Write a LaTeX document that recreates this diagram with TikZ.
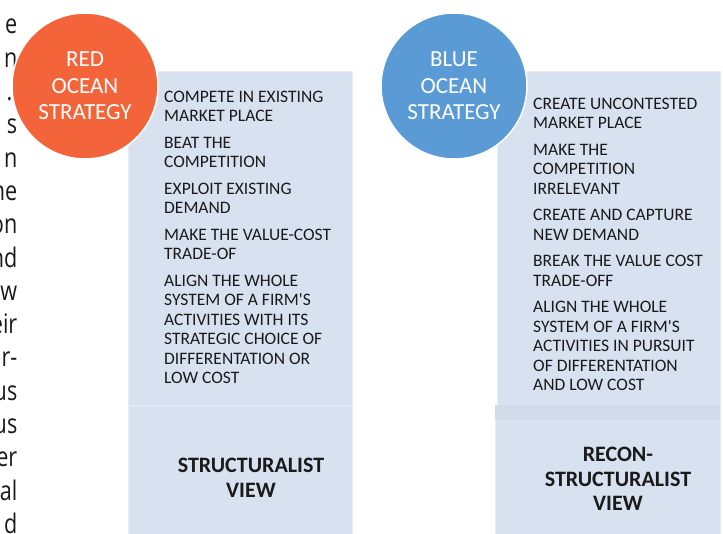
\documentclass[tikz,border=0pt]{standalone}
\usepackage{fontspec}
\setmainfont{Carlito}
\newfontfamily\narrowfont[FakeStretch=0.8]{Open Sans}
\definecolor{boxfill}{HTML}{D7E1F0}
\definecolor{boxband}{HTML}{D1DBEA}
\definecolor{redocean}{HTML}{F4643A}
\definecolor{blueocean}{HTML}{5B9BD5}
\definecolor{inktext}{HTML}{1A1A1A}
\tikzset{
  panel/.style={fill=boxfill, draw=white!40!boxfill, line width=0.6pt, anchor=north west, inner sep=0pt},
  oceancircle/.style={circle, draw=white, line width=1.5pt, inner sep=0pt, minimum size=146pt, text=white, align=center, font=\fontsize{23}{26.6}\selectfont},
  itemtext/.style={anchor=north west, align=left, inner sep=0pt, text=inktext, font=\fontsize{17.5}{19.5}\selectfont},
  viewtext/.style={align=center, inner sep=0pt, text=inktext, font=\fontsize{22}{24.5}\selectfont\bfseries},
  fragment/.style={anchor=base east, inner sep=0pt, text=inktext, font=\narrowfont\fontsize{27}{33}\selectfont}
}
\begin{document}
\begin{tikzpicture}[x=1pt,y=-1pt]
\useasboundingbox (0,0) rectangle (723,534);
\clip (0,0) rectangle (723,534);
\fill[white] (0,0) rectangle (723,534);

% cropped neighbouring text column
\foreach \t/\xr [count=\i from 0] in {e/17.5,n/17.5,./12.5,s/17.5,n/17.5,ne/17.5,on/17.5,nd/17.5,w/17.5,eir/17.5,or-/17.5,us/17.5,us/17.5,er/17.5,ial/17.5,d/17.5}
  \node[fragment] (frag\i) at (\xr,{34+33.3*\i}) {\t};

% red side panels
\node[panel, minimum width=224pt, minimum height=334pt] (rtop) at (128,71) {};
\node[panel, minimum width=224pt, minimum height=132pt] (rbot) at (128,405) {};
% blue side panels
\node[panel, minimum width=223pt, minimum height=334pt] (btop) at (497,71) {};
\node[panel, minimum width=225pt, minimum height=132pt] (bbot) at (495,405) {};
\node[fill=boxband, anchor=north west, inner sep=0pt, minimum width=225pt, minimum height=15pt] (bband) at (495,405) {};

% circles
\node[oceancircle, fill=redocean] (red) at (85,86) {RED\\OCEAN\\STRATEGY};
\node[oceancircle, fill=blueocean] (blue) at (454,86) {BLUE\\OCEAN\\STRATEGY};

% red list
\node[itemtext] (rlist) at (164,90.5) {COMPETE IN EXISTING\\MARKET PLACE\\[7pt]
BEAT THE\\COMPETITION\\[7pt]
EXPLOIT EXISTING\\DEMAND\\[7pt]
MAKE THE VALUE-COST\\TRADE-OF\\[7pt]
ALIGN THE WHOLE\\SYSTEM OF A FIRM\textquotesingle S\\ACTIVITIES WITH ITS\\STRATEGIC CHOICE OF\\DIFFERENTATION OR\\LOW COST};

% blue list
\node[itemtext] (blist) at (533,97.5) {CREATE UNCONTESTED\\MARKET PLACE\\[7pt]
MAKE THE\\COMPETITION\\IRRELEVANT\\[7pt]
CREATE AND CAPTURE\\NEW DEMAND\\[7pt]
BREAK THE VALUE COST\\TRADE-OFF\\[7pt]
ALIGN THE WHOLE\\SYSTEM OF A FIRM\textquotesingle S\\ACTIVITIES IN PURSUIT\\OF DIFFERENTATION\\AND LOW COST};

% views
\node[viewtext] (rview) at (251,478) {STRUCTURALIST\\VIEW};
\node[viewtext] (bview) at (618,479) {RECON-\\STRUCTURALIST\\VIEW};
\end{tikzpicture}
\end{document}
